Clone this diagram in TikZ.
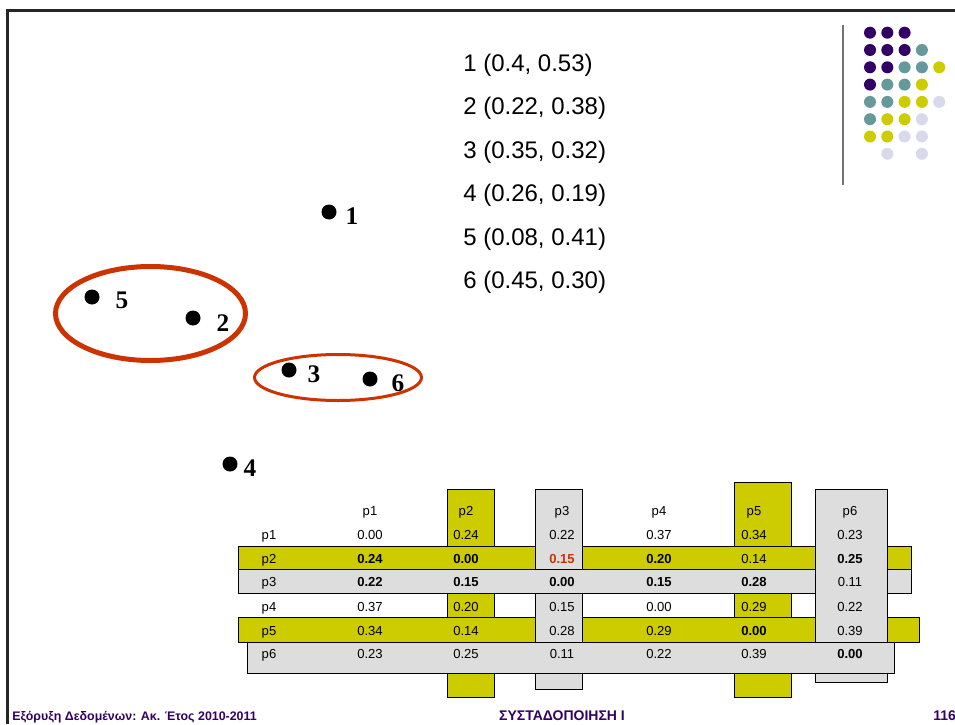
\documentclass[tikz,border=0pt]{standalone}
\usepackage{fontspec}
\setmainfont{Liberation Sans}
\newfontfamily\ptfont{Liberation Serif}
\definecolor{clyellow}{HTML}{CCCC00}
\definecolor{clgray}{HTML}{DDDDDD}
\definecolor{clred}{HTML}{CC3300}
\definecolor{clpurple}{HTML}{330066}
\definecolor{clteal}{HTML}{669999}
\definecolor{cllav}{HTML}{D9D9EC}
\tikzset{
  ybar/.style={fill=clyellow, draw=black, line width=0.75pt},
  gbar/.style={fill=clgray, draw=black, line width=0.75pt},
  cell/.style={anchor=base, inner sep=0pt, font=\fontsize{9.8}{11}\selectfont},
  pdot/.style={circle, fill=black, inner sep=0pt, minimum size=11.25pt},
  plabel/.style={anchor=base, inner sep=0pt, font=\ptfont\bfseries\fontsize{19}{19}\selectfont},
  coordtxt/.style={anchor=base west, inner sep=0pt, font=\fontsize{18}{20}\selectfont},
  foot/.style={anchor=base, inner sep=0pt, text=clpurple, font=\bfseries\fontsize{10.5}{12}\selectfont},
  gdot/.style={circle, inner sep=0pt, minimum size=9pt},
  cluster/.style={draw=clred}
}
\begin{document}
\begin{tikzpicture}[x=0.75pt,y=-0.75pt]
\useasboundingbox (0,0) rectangle (955,724);

% slide frame
\draw[line width=2.2pt, black!85] (7.5,724) -- (7.5,10.7) -- (955,10.7);

% decorative dot grid and rule
\draw[line width=1.1pt, black!55] (843,25) -- (843,185);
\foreach \row/\cols in {
  1/{clpurple,clpurple,clpurple},
  2/{clpurple,clpurple,clpurple,clteal},
  3/{clpurple,clpurple,clteal,clteal,clyellow},
  4/{clpurple,clteal,clteal,clyellow},
  5/{clteal,clteal,clyellow,clyellow,cllav},
  6/{clteal,clyellow,clyellow,cllav},
  7/{clyellow,clyellow,cllav,cllav},
  8/{white,cllav,white,cllav}} {
  \foreach \col [count=\c] in \cols {
    \node[gdot, fill=\col] (g-\row-\c) at ({870+17.3*(\c-1)},{32.7+17.3*(\row-1)}) {};
  }
}

% coordinate list
\node[coordtxt] (k1) at (463,71.5)  {1 (0.4, 0.53)};
\node[coordtxt] (k2) at (463,114.9) {2 (0.22, 0.38)};
\node[coordtxt] (k3) at (463,158.3) {3 (0.35, 0.32)};
\node[coordtxt] (k4) at (463,201.7) {4 (0.26, 0.19)};
\node[coordtxt] (k5) at (463,245.1) {5 (0.08, 0.41)};
\node[coordtxt] (k6) at (463,288.5) {6 (0.45, 0.30)};

% points
\node[pdot] (d1) at (329,212) {};
\node[pdot] (d2) at (193,318) {};
\node[pdot] (d3) at (289,370) {};
\node[pdot] (d4) at (230,464) {};
\node[pdot] (d5) at (92,297) {};
\node[pdot] (d6) at (370,379) {};
\node[plabel] (l1) at (352,224.5) {1};
\node[plabel] (l2) at (223,331.5) {2};
\node[plabel] (l3) at (314,382.5) {3};
\node[plabel] (l4) at (250,476.5) {4};
\node[plabel] (l5) at (122,308.5) {5};
\node[plabel] (l6) at (398,391.5) {6};

% clusters
\draw[cluster, line width=3.75pt] (150.5,313.5) ellipse [x radius=71.25pt, y radius=35.25pt];
\draw[cluster, line width=2.25pt] (338,377.5) ellipse [x radius=62.6pt, y radius=17.25pt];

% highlighted columns and rows of the distance matrix
\draw[ybar] (447,489) rectangle (494,697);
\draw[ybar] (734,482) rectangle (791,697);
\draw[ybar] (238,546) rectangle (911,569);
\draw[ybar] (238,617) rectangle (919,642);
\draw[gbar] (535,489) rectangle (582,689);
\draw[gbar] (238,569) rectangle (911,593);
\draw[gbar] (815,489) rectangle (887,682);
\draw[gbar] (247,642) rectangle (894,673);

% header
\foreach \t [count=\c] in {p1,p2,p3,p4,p5,p6}
  \node[cell] (h-\c) at ({\c==1 ? 370 : (\c==2 ? 466 : (\c==3 ? 562 : (\c==4 ? 659 : (\c==5 ? 754 : 850))))},515.2) {\t};

% matrix rows
\foreach \r/\y/\vals in {
  1/539.5/{0.00,0.24,0.22,0.37,0.34,0.23},
  2/563.5/{\textbf{0.24},\textbf{0.00},\textcolor{clred}{\textbf{0.15}},\textbf{0.20},0.14,\textbf{0.25}},
  3/586.8/{\textbf{0.22},\textbf{0.15},\textbf{0.00},\textbf{0.15},\textbf{0.28},0.11},
  4/611.2/{0.37,0.20,0.15,0.00,0.29,0.22},
  5/635.2/{0.34,0.14,0.28,0.29,\textbf{0.00},0.39},
  6/658.5/{0.23,0.25,0.11,0.22,0.39,\textbf{0.00}}} {
  \node[cell] (r-\r) at (269,\y) {p\r};
  \foreach \v [count=\c] in \vals
    \node[cell] (m-\r-\c) at ({\c==1 ? 370 : (\c==2 ? 466 : (\c==3 ? 562 : (\c==4 ? 659 : (\c==5 ? 754 : 850))))},\y) {\v};
}

% footer
\node[foot, anchor=base west, font=\bfseries\fontsize{9.3}{12}\selectfont] (f1) at (12,720.5) {Εξόρυξη Δεδομένων: Ακ. Έτος 2010-2011};
\node[foot] (f2) at (562,720.5) {ΣΥΣΤΑΔΟΠΟΙΗΣΗ Ι};
\node[foot, anchor=base west] (f3) at (933,720.5) {116};
\end{tikzpicture}
\end{document}
